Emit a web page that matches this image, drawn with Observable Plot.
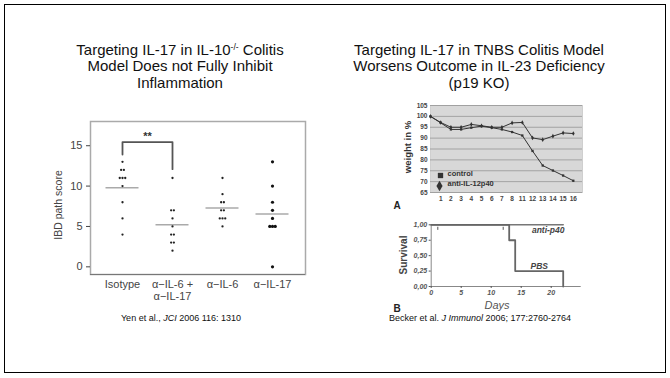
<!DOCTYPE html>
<html>
<head>
<meta charset="utf-8">
<script src="https://cdn.jsdelivr.net/npm/d3@7"></script>
<script src="https://cdn.jsdelivr.net/npm/@observablehq/plot@0.6"></script>
<style>
  html, body { margin: 0; padding: 0; background: #fff; }
  body { width: 670px; height: 378px; position: relative; overflow: hidden; font-family: "Liberation Sans", Arial, sans-serif; }
  .abs { position: absolute; }
  .border { left: 4px; top: 4px; width: 660px; height: 367px; border: 1.5px solid #000; }
  .title { font-size: 15px; line-height: 16.5px; color: #111; text-align: center; white-space: nowrap; transform: translateX(-50%); }
  .foot { font-size: 9px; color: #111; white-space: nowrap; transform: translate(-50%, -50%); }
  .rot { transform: translate(-50%, -50%) rotate(-90deg); white-space: nowrap; }
  .ctr { transform: translate(-50%, -50%); white-space: nowrap; }
  #w svg text { font-weight: bold; }
  #s svg text { font-weight: bold; font-style: italic; }
</style>
</head>
<body>
<div class="abs border"></div>
<div class="abs title" style="left:180px; top:41.5px;">Targeting IL-17 in IL-10<sup style="font-size:8.5px; vertical-align:5px; line-height:0;">-/-</sup> Colitis<br>Model Does not Fully Inhibit<br>Inflammation</div>
<div class="abs title" style="left:479px; top:41.5px;">Targeting IL-17 in TNBS Colitis Model<br>Worsens Outcome in IL-23 Deficiency<br>(p19 KO)</div>

<div id="l" class="abs" style="left:0px; top:110px;"></div>
<div id="w" class="abs" style="left:350px; top:95px;"></div>
<div id="s" class="abs" style="left:350px; top:215px;"></div>

<div class="abs rot" style="left:58px; top:205px; font-size:10.5px; color:#444;">IBD path score</div>
<div class="abs rot" style="left:407px; top:147px; font-size:9.5px; font-weight:bold; color:#333;">weight in %</div>
<div class="abs ctr" style="left:397px; top:205px; font-size:10px; font-weight:bold; color:#222;">A</div>
<div class="abs rot" style="left:403px; top:255px; font-size:10px; font-weight:bold; color:#444;">Survival</div>
<div class="abs ctr" style="left:397px; top:308px; font-size:10px; font-weight:bold; color:#222;">B</div>
<div class="abs ctr" style="left:497px; top:305px; font-size:11px; font-style:italic; color:#555;">Days</div>

<div class="abs foot" style="left:181px; top:318px;">Yen et al., <i>JCI</i> 2006 116: 1310</div>
<div class="abs foot" style="left:480px; top:318px;">Becker et al. <i>J Immunol</i> 2006; 177:2760-2764</div>

<script>
// ---------- Left chart data ----------
const categories = ["Isotype", "α−IL-6 +\nα−IL-17", "α−IL-6", "α−IL-17"];
const isotypeScores = [13, 12, 12, 11, 11, 11, 10, 8, 6, 4];
const comboScores = [11, 7, 7, 6, 5, 4, 4, 3, 3, 2];
const il6Scores = [11, 9, 8, 8, 7, 7, 6, 6, 6, 5];
const il17Scores = [13, 10, 8, 7, 6, 5, 5, 5, 0];
const scoreTicks = [0, 5, 10, 15];
const bracket = [{g: 0, y: 13.9}, {g: 0, y: 15.45}, {g: 1, y: 15.45}, {g: 1, y: 12.1}];
const sigText = "**";

// ---------- Weight chart data ----------
const weightDays = ["", "1", "2", "3", "4", "5", "6", "7", "8", "11", "12", "13", "14", "15", "16"];
const weightControl = [100, 97, 94, 94, 94.8, 95.5, 94.8, 94, 92.8, 91.2, 84.1, 77.4, 75.1, 72.8, 70.4];
const weightAnti = [100, 97.2, 95, 95, 96.3, 95.7, 95, 95, 97, 97.2, 90.1, 89.3, 90.9, 92.4, 92.1];
const weightTicks = [65, 70, 75, 80, 85, 90, 95, 100, 105];
const legendLabels = ["control", "anti-IL-12p40"];

// ---------- Survival chart data ----------
const survPBS = [{t: 0, s: 1}, {t: 13, s: 0.75}, {t: 14, s: 0.25}, {t: 22, s: 0}];
const survAnti = [{t: 0, s: 1}, {t: 22, s: 1}];
const censorDays = [1.1, 12];
const survTicksY = [0, 0.25, 0.5, 0.75, 1];
const survTicksX = [0, 5, 10, 15, 20];
const survLabels = [{t: 19.5, s: 0.91, label: "anti-p40"}, {t: 18, s: 0.32, label: "PBS"}];

const FONT = "'Liberation Sans', Arial, sans-serif";

// ---------- Left chart ----------
const groups = [isotypeScores, comboScores, il6Scores, il17Scores];
const points = groups.flatMap((vals, i) => {
  const counts = d3.rollup(vals, v => v.length, d => d);
  const seen = new Map();
  return vals.map(v => {
    const k = seen.get(v) || 0; seen.set(v, k + 1);
    const n = counts.get(v);
    return {cat: i, x: i + (k - (n - 1) / 2) * 0.055, y: v};
  });
});
const means = groups.map((vals, i) => ({x1: i - 0.33, x2: i + 0.33, y: d3.mean(vals)}));
const bracketTop = d3.max(bracket, d => d.y);

const left = Plot.plot({
  width: 330, height: 200,
  marginLeft: 90, marginRight: 25, marginTop: 11, marginBottom: 36,
  style: {fontFamily: FONT, fontSize: "11px", color: "#444", background: "transparent"},
  x: {domain: [-0.64, 3.66], axis: null},
  y: {domain: [-0.95, 18], axis: null},
  marks: [
    Plot.frame({stroke: "#aaa", strokeWidth: 1.5}),
    Plot.ruleY([-0.95], {stroke: "#777", strokeWidth: 1.2}),
    Plot.axisY({ticks: scoreTicks, tickSize: 4, tickPadding: 4, label: null, fontSize: 11}),
    Plot.axisX({ticks: [0, 1, 2, 3], tickFormat: i => categories[i], tickSize: 0, tickPadding: 5, label: null, fontSize: 11, lineHeight: 1.1}),
    Plot.ruleY(means, {x1: "x1", x2: "x2", y: "y", stroke: "#aaa", strokeWidth: 1.5}),
    Plot.dot(points.filter(d => d.cat < 3), {x: "x", y: "y", r: 1.15, fill: "#222", stroke: null}),
    Plot.dot(points.filter(d => d.cat === 3), {x: "x", y: "y", r: 1.6, fill: "#111", stroke: null}),
    Plot.line(bracket, {x: "g", y: "y", stroke: "#555", strokeWidth: 1.8}),
    Plot.text([sigText], {x: 0.5, y: bracketTop + 0.65, text: d => d, fontSize: 11, fontWeight: "bold", fill: "#333"})
  ]
});
document.getElementById("l").appendChild(left);

// ---------- Weight chart ----------
const wControl = weightControl.map((w, i) => ({i, w}));
const wAnti = weightAnti.map((w, i) => ({i, w}));
const weight = Plot.plot({
  width: 250, height: 120,
  marginLeft: 80, marginRight: 18, marginTop: 10, marginBottom: 23,
  style: {fontFamily: FONT, fontSize: "6.5px", color: "#444", background: "transparent"},
  x: {domain: [0, 14.9], axis: null},
  y: {domain: [65, 105], axis: null},
  marks: [
    Plot.frame({fill: "#d8d8d8", stroke: "#cfcfcf"}),
    Plot.gridY({ticks: weightTicks, stroke: "#8c8c8c", strokeOpacity: 1, strokeWidth: 0.7}),
    Plot.axisY({ticks: weightTicks, tickSize: 0, tickPadding: 3, label: null, fontSize: 6.5}),
    Plot.axisX({ticks: d3.range(1, weightDays.length), tickFormat: i => weightDays[i], tickSize: 0, tickPadding: 4, label: null, fontSize: 6.5}),
    Plot.line(wControl, {x: "i", y: "w", stroke: "#333", strokeWidth: 1}),
    Plot.line(wAnti, {x: "i", y: "w", stroke: "#333", strokeWidth: 1}),
    Plot.dot(wControl, {x: "i", y: "w", symbol: "square", r: 1.3, fill: "#333", stroke: null}),
    Plot.dot(wAnti, {x: "i", y: "w", symbol: "diamond", r: 1.4, fill: "#333", stroke: null}),
    Plot.dot([legendLabels[0]], {frameAnchor: "bottom-left", dx: 10, dy: -17, symbol: "square", r: 3, fill: "#333", stroke: null}),
    Plot.dot([legendLabels[1]], {frameAnchor: "bottom-left", dx: 9, dy: -6.5, symbol: "diamond", r: 3.2, fill: "#333", stroke: null}),
    Plot.text([legendLabels[0]], {frameAnchor: "bottom-left", dx: 17, dy: -17, text: d => d, textAnchor: "start", fontSize: 7.5, fill: "#333"}),
    Plot.text([legendLabels[1]], {frameAnchor: "bottom-left", dx: 17, dy: -6.5, text: d => d, textAnchor: "start", fontSize: 7.5, fill: "#333"})
  ]
});
document.getElementById("w").appendChild(weight);

// ---------- Survival chart ----------
const surv = Plot.plot({
  width: 250, height: 100,
  marginLeft: 80.7, marginRight: 19.3, marginTop: 9.3, marginBottom: 29,
  style: {fontFamily: FONT, fontSize: "7px", color: "#555", background: "transparent"},
  x: {domain: [0, 25], axis: null},
  y: {domain: [0, 1], axis: null},
  marks: [
    Plot.ruleX([0], {stroke: "#888", strokeWidth: 1}),
    Plot.ruleY([0], {stroke: "#888", strokeWidth: 1}),
    Plot.axisY({ticks: survTicksY, tickFormat: d => d.toFixed(2).replace(".", ","), tickSize: 2, tickPadding: 2, label: null, fontSize: 7}),
    Plot.axisX({ticks: survTicksX, tickSize: 2, tickPadding: 2, label: null, fontSize: 7}),
    Plot.line(survAnti, {x: "t", y: "s", curve: "step-after", stroke: "#777", strokeWidth: 1.6}),
    Plot.line(survPBS, {x: "t", y: "s", curve: "step-after", stroke: "#666", strokeWidth: 1.8}),
    Plot.ruleX(censorDays, {x: d => d, y1: 0.91, y2: 0.96, stroke: "#555", strokeWidth: 1}),
    Plot.text(survLabels, {x: "t", y: "s", text: "label", fontSize: 8.5, fill: "#444"})
  ]
});
document.getElementById("s").appendChild(surv);
</script>
</body>
</html>
